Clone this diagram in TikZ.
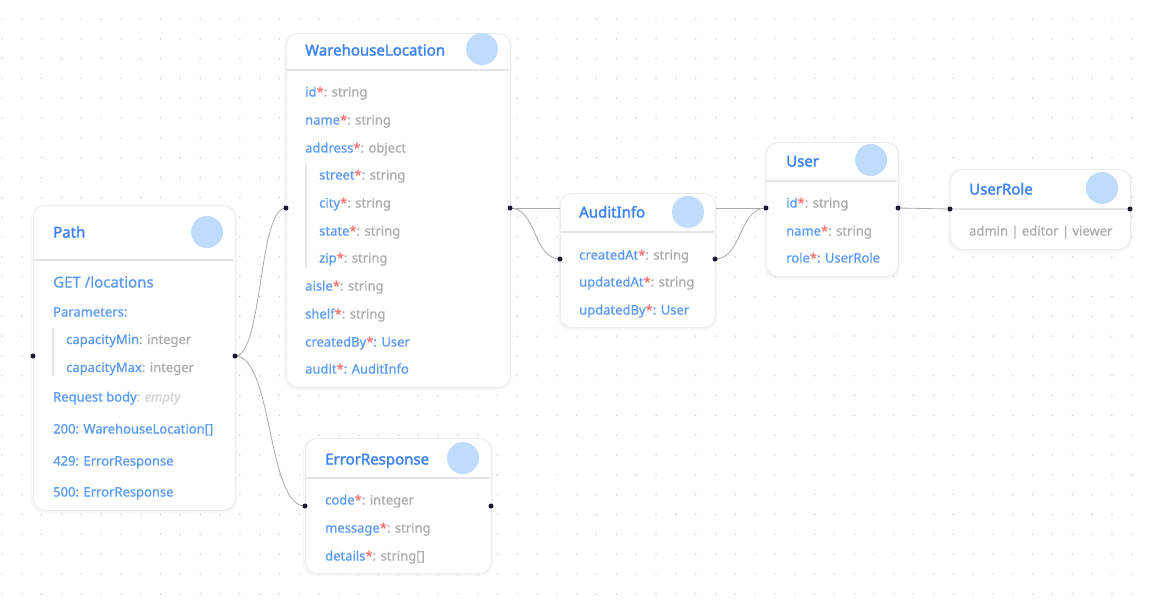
\documentclass[tikz,border=0pt]{standalone}
\usepackage{fontspec}
\setmainfont{Noto Sans}[FakeBold=0.7]
\newfontfamily\semifont{Noto Sans}[FakeBold=1.8]
\newfontfamily\medfont{Noto Sans}[FakeBold=0.75]
\definecolor{titlec}{RGB}{59,130,246}
\definecolor{fldc}{RGB}{91,155,247}
\definecolor{typc}{RGB}{172,172,172}
\definecolor{reqc}{RGB}{248,113,113}
\definecolor{emptyc}{RGB}{212,212,212}
\definecolor{circc}{RGB}{191,219,254}
\definecolor{sepc}{RGB}{230,230,232}
\definecolor{borderc}{RGB}{236,236,238}
\definecolor{gridc}{RGB}{180,180,180}
\definecolor{edgec}{RGB}{170,170,170}
\definecolor{portc}{RGB}{26,26,40}
\newcommand\reqf[2]{\textcolor{fldc}{#1}\textcolor{reqc}{*}\textcolor{typc}{: #2}}
\newcommand\reqref[2]{\textcolor{fldc}{#1}\textcolor{reqc}{*}\textcolor{fldc}{: #2}}
\newcommand\optf[2]{\textcolor{fldc}{#1}\textcolor{typc}{: #2}}
\tikzset{
  entity/.style={draw=borderc, line width=0.8pt, fill=white, rounded corners=12pt, inner sep=0pt},
  shade box/.style={fill=black, fill opacity=0.035, rounded corners=13pt},
  sepline/.style={draw=sepc, line width=1.6pt},
  hcirc/.style={circle, fill=circc, minimum size=32pt, inner sep=0pt},
  etitle/.style={anchor=base west, inner sep=0pt, text=titlec, font=\semifont\fontsize{15}{18}\selectfont},
  efield/.style={anchor=base west, inner sep=0pt, font=\medfont\fontsize{13}{16}\selectfont},
  nestbar/.style={draw=sepc, line width=1.6pt},
  edge/.style={draw=edgec, line width=0.8pt},
  port/.style={circle, fill=portc, minimum size=5pt, inner sep=0pt},
}
\newcommand\entbox[6]{%
  \fill[shade box] (#2-2,#3) rectangle (#4+2,#5+3);
  \node[entity, minimum width={(#4-#2)*1pt}, minimum height={(#5-#3)*1pt}, anchor=north west] (#1) at (#2,#3) {};
  \draw[sepline] (#2+0.6,#6) -- (#4-0.6,#6);
}
\begin{document}
\begin{tikzpicture}[x=1pt,y=-1pt]
\useasboundingbox (0,0) rectangle (1149,600);
\fill[white] (0,0) rectangle (1149,600);
% grid
\foreach \i in {0,...,57}{\foreach \j in {0,...,29}{\fill[gridc] (2+19.82*\i,19+19.82*\j) circle (0.65);}}
% port coordinates
\coordinate (path-l) at (33,356);
\coordinate (path-r) at (235,356);
\coordinate (wl-l) at (286,208);
\coordinate (wl-r) at (510,208);
\coordinate (ai-l) at (560,259);
\coordinate (ai-r) at (715,259);
\coordinate (us-l) at (766,208);
\coordinate (us-r) at (898,208);
\coordinate (ur-l) at (950,209);
\coordinate (ur-r) at (1130,209);
\coordinate (er-l) at (305,506);
\coordinate (er-r) at (491,506);
% edges
\draw[edge] (path-r) .. controls +(28,0) and +(-28,0) .. (wl-l);
\draw[edge] (path-r) .. controls +(38,0) and +(-38,0) .. (er-l);
\draw[edge] (wl-r) -- (us-l);
\draw[edge] (wl-r) .. controls +(27,0) and +(-27,0) .. (ai-l);
\draw[edge] (ai-r) .. controls +(27,0) and +(-27,0) .. (us-l);
\draw[edge] (us-r) -- (ur-l);
% Path
\entbox{path}{33}{205}{235}{510}{260}
\node[hcirc] (path-c) at (207,232) {};
\node[etitle] (path-t) at (53,237.5) {Path};
\node[efield, text=fldc, font=\medfont\fontsize{15}{18}\selectfont] (path-1) at (53,287.5) {GET /locations};
\node[efield, text=fldc] (path-2) at (53,316.5) {Parameters:};
\draw[nestbar] (53,328) -- (53,376);
\node[efield] (path-3) at (66,344) {\optf{capacityMin}{integer}};
\node[efield] (path-4) at (66,372) {\optf{capacityMax}{integer}};
\node[efield] (path-5) at (53,401.5) {\textcolor{fldc}{Request body}\textcolor{emptyc}{\itshape: empty}};
\node[efield, text=fldc] (path-6) at (53,433.5) {200: WarehouseLocation[]};
\node[efield, text=fldc] (path-7) at (53,465.5) {429: ErrorResponse};
\node[efield, text=fldc] (path-8) at (53,496.5) {500: ErrorResponse};
% WarehouseLocation
\entbox{wl}{286}{33}{510}{387}{70}
\node[hcirc] (wl-c) at (482,49) {};
\node[etitle] (wl-t) at (305,55.5) {WarehouseLocation};
\node[efield] (wl-1) at (305,96.5) {\reqf{id}{string}};
\node[efield] (wl-2) at (305,124.5) {\reqf{name}{string}};
\node[efield] (wl-3) at (305,152.5) {\reqf{address}{object}};
\draw[nestbar] (306,163) -- (306,268);
\node[efield] (wl-4) at (319,179.5) {\reqf{street}{string}};
\node[efield] (wl-5) at (319,207.5) {\reqf{city}{string}};
\node[efield] (wl-6) at (319,235.5) {\reqf{state}{string}};
\node[efield] (wl-7) at (319,262.5) {\reqf{zip}{string}};
\node[efield] (wl-8) at (305,290.5) {\reqf{aisle}{string}};
\node[efield] (wl-9) at (305,318.5) {\reqf{shelf}{string}};
\node[efield] (wl-10) at (305,346.5) {\reqref{createdBy}{User}};
\node[efield] (wl-11) at (305,373.5) {\reqref{audit}{AuditInfo}};
% AuditInfo
\entbox{ai}{560}{193}{715}{327}{232}
\node[hcirc] (ai-c) at (688,212) {};
\node[etitle] (ai-t) at (579,217.5) {AuditInfo};
\node[efield] (ai-1) at (579,259.5) {\reqf{createdAt}{string}};
\node[efield] (ai-2) at (579,286.5) {\reqf{updatedAt}{string}};
\node[efield] (ai-3) at (579,314.5) {\reqref{updatedBy}{User}};
% User
\entbox{us}{766}{142}{898}{276}{181}
\node[hcirc] (us-c) at (871,160) {};
\node[etitle] (us-t) at (786,166.5) {User};
\node[efield] (us-1) at (786,207.5) {\reqf{id}{string}};
\node[efield] (us-2) at (786,235.5) {\reqf{name}{string}};
\node[efield] (us-3) at (786,262.5) {\reqref{role}{UserRole}};
% UserRole
\entbox{ur}{950}{169}{1130}{249}{209}
\node[hcirc] (ur-c) at (1102,188) {};
\node[etitle] (ur-t) at (969,194.5) {UserRole};
\node[efield, text=typc] (ur-1) at (969,235.5) {admin | editor | viewer};
% ErrorResponse
\entbox{er}{305}{438}{491}{573}{478}
\node[hcirc] (er-c) at (463,458) {};
\node[etitle] (er-t) at (325,464.5) {ErrorResponse};
\node[efield] (er-1) at (325,504.5) {\reqf{code}{integer}};
\node[efield] (er-2) at (325,532.5) {\reqf{message}{string}};
\node[efield] (er-3) at (325,560.5) {\reqf{details}{string[]}};
% ports
\foreach \p in {path-l,path-r,wl-l,wl-r,ai-l,ai-r,us-l,us-r,ur-l,ur-r,er-l,er-r}{\node[port] at (\p) {};}
\end{tikzpicture}
\end{document}
